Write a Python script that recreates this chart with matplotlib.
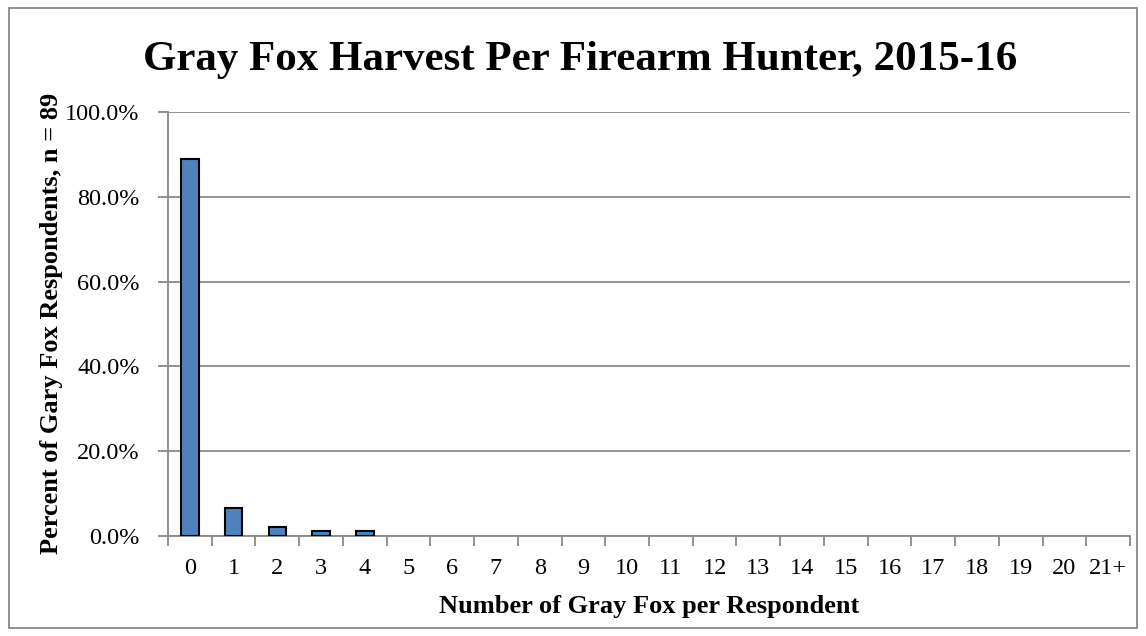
import matplotlib.pyplot as plt
import numpy as np
from matplotlib.patches import Rectangle
from matplotlib.ticker import FuncFormatter

# values (percent of respondents)
categories = [str(i) for i in range(21)] + ['21+']
percents = [88.8, 6.7, 2.2, 1.1, 1.1] + [0.0] * 17

plt.rcParams['font.family'] = ['Liberation Serif', 'DejaVu Serif']

W, H = 1146, 636
fig = plt.figure(figsize=(W / 100, H / 100), dpi=100)
ax = fig.add_axes([168 / W, 1 - 536 / H, (1130 - 168) / W, (536 - 112) / H])

x = np.arange(len(categories))
# zero bars get no outline, like the original
lw = [1.5 if p > 0 else 0 for p in percents]
ax.bar(x, percents, width=0.4, color='#4f81bd', edgecolor='black', linewidth=lw, zorder=3)

ax.set_xlim(-0.5, len(categories) - 0.5)
ax.set_ylim(0, 100)
ax.set_yticks(np.arange(0, 101, 20))
ax.yaxis.set_major_formatter(FuncFormatter(lambda v, p: f'{v:.1f}%'))
ax.yaxis.grid(True, color='#888888', linewidth=1.3, zorder=0)

ax.set_xticks(x)
ax.set_xticklabels(categories)
ax.set_xticks(np.arange(-0.5, len(categories), 1), minor=True)
ax.tick_params(axis='x', which='major', length=0, pad=15.5, labelsize=17.5)
ax.tick_params(axis='x', which='minor', length=7, color='#888888', width=1.3)
ax.tick_params(axis='y', length=7, color='#888888', width=1.3, labelsize=17.5, pad=13.5)

for side in ['top', 'right']:
    ax.spines[side].set_visible(False)
for side in ['left', 'bottom']:
    ax.spines[side].set_color('#888888')
    ax.spines[side].set_linewidth(1.3)

fig.text(649 / W, 1 - 613 / H, 'Number of Gray Fox per Respondent', ha='center', va='baseline',
         fontsize=19, fontweight='bold')
fig.text(52 / W, 1 - 323 / H, 'Percent of Gary Fox Respondents, n = 89', ha='center', va='center',
         rotation=90, fontsize=19, fontweight='bold')
fig.text(580 / W, 1 - 70 / H, 'Gray Fox Harvest Per Firearm Hunter, 2015-16', ha='center', va='baseline',
         fontsize=31, fontweight='bold')

fig.patches.append(Rectangle((9 / W, 8 / H), 1128 / W, 620 / H, transform=fig.transFigure,
                             fill=False, edgecolor='#888888', linewidth=1.3))

fig.savefig('out.png', dpi=100)
